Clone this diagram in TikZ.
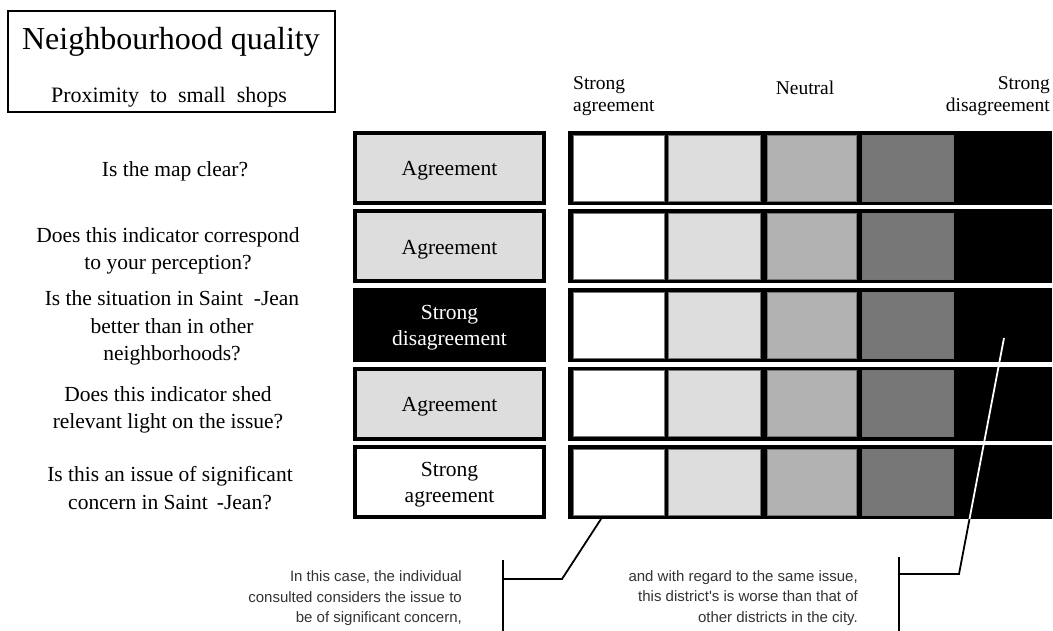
\documentclass[tikz,border=0pt]{standalone}
\usepackage{fontspec}
\setmainfont{Liberation Serif}
\newfontfamily\sansf{Liberation Sans}
\definecolor{lgray}{HTML}{DDDDDD}
\definecolor{mgray}{HTML}{B2B2B2}
\definecolor{dgray}{HTML}{777777}
\definecolor{notegray}{HTML}{333333}
\begin{document}
\begin{tikzpicture}[x=1pt,y=-1pt,
  qtext/.style={align=center, inner sep=0pt, font=\fontsize{21.5}{27.5}\selectfont},
  ansbox/.style={draw, line width=4pt, minimum width=189pt, minimum height=70pt, inner sep=0pt},
  anstext/.style={align=center, inner sep=0pt, yshift=-3pt, font=\fontsize{21.5}{26}\selectfont},
  scalebar/.style={fill=black, minimum width=484pt, minimum height=74pt, inner sep=0pt},
  cellbox/.style={minimum height=66pt, inner sep=0pt, draw=black!55, line width=0.6pt},
  headtext/.style={inner sep=0pt, font=\fontsize{19.5}{22}\selectfont},
  notetext/.style={inner sep=0pt, align=right, font=\sansf\fontsize{15}{20.5}\selectfont, text=notegray},
  bracket/.style={line width=1.8pt}
]
\useasboundingbox[fill=white] (0,0) rectangle (1053,631);

% title box
\node[draw, line width=1.6pt, minimum width=327pt, minimum height=101pt, inner sep=0pt] (titlebox) at (171.5,61.5) {};
\node[inner sep=0pt, font=\fontsize{32}{36}\selectfont] (title) at (171,42) {Neighbourhood quality};
\node[inner sep=0pt, font=\fontsize{22}{26}\selectfont] (subtitle) at (169,97) {Proximity\ \ to\ \ small\ \ shops};

% header
\node[headtext, anchor=west, align=left] (hleft) at (573,96) {Strong\\agreement};
\node[headtext] (hmid) at (805,88) {Neutral};
\node[headtext, anchor=east, align=right] (hright) at (1050,96) {Strong\\disagreement};

% questions
\node[qtext] (q1) at (175,171) {Is the map clear?};
\node[qtext] (q2) at (168,251) {Does this indicator correspond\\to your perception?};
\node[qtext] (q3) at (172,328) {Is the situation in Saint \ -Jean\\better than in other\\neighborhoods?};
\node[qtext] (q4) at (168,410) {Does this indicator shed\\relevant light on the issue?};
\node[qtext] (q5) at (170,488) {Is this an issue of significant\\concern in Saint \,-Jean?};

% answers
\node[ansbox, fill=lgray] (a1) at (449.5,168) {};
\node[ansbox, fill=lgray] (a2) at (449.5,246.5) {};
\node[ansbox, fill=black] (a3) at (449.5,325) {};
\node[ansbox, fill=lgray] (a4) at (449.5,403.5) {};
\node[ansbox, fill=white] (a5) at (449.5,482) {};
\node[anstext] (t1) at (a1) {Agreement};
\node[anstext] (t2) at (a2) {Agreement};
\node[anstext, text=white] (t3) at (a3) {Strong\\disagreement};
\node[anstext] (t4) at (a4) {Agreement};
\node[anstext] (t5) at (a5) {Strong\\agreement};

% scales
\foreach \i in {1,...,5}{
  \pgfmathsetmacro{\yy}{168+78.5*(\i-1)}
  \node[scalebar] (s\i) at (810,\yy) {};
  \node[cellbox, fill=white, minimum width=91pt] (s\i c1) at (618.5,\yy) {};
  \node[cellbox, fill=lgray, minimum width=92pt] (s\i c2) at (714,\yy) {};
  \node[cellbox, fill=mgray, minimum width=89pt] (s\i c3) at (811.5,\yy) {};
  \node[cellbox, fill=dgray, minimum width=91pt] (s\i c4) at (907.5,\yy) {};
}

% notes
\node[notetext, anchor=east] (n1) at (462,598.5) {In this case, the individual\\consulted considers the issue to\\be of significant concern,};
\node[notetext, anchor=east] (n2) at (858,598) {and with regard to the same issue,\\this district's is worse than that of\\other districts in the city.};

% left bracket
\coordinate (lbtop) at (503,560);
\coordinate (lbbot) at (503,631);
\coordinate (lbmid) at (503,579);
\coordinate (lbknee) at (562,579);
\coordinate (lbend) at (601,519);
\draw[bracket] (lbtop) -- (lbbot);
\draw[bracket] (lbmid) -- (lbknee) -- (lbend);

% right bracket
\coordinate (rbtop) at (899,557);
\coordinate (rbbot) at (899,631);
\coordinate (rbmid) at (899,574);
\coordinate (rbknee) at (959,574);
\coordinate (rbedge) at (969.5,519);
\coordinate (rbend) at (1004,338);
\draw[bracket] (rbtop) -- (rbbot);
\draw[bracket] (rbmid) -- (rbknee) -- (rbedge);
\draw[bracket, white] (rbedge) -- (rbend);
\end{tikzpicture}
\end{document}
